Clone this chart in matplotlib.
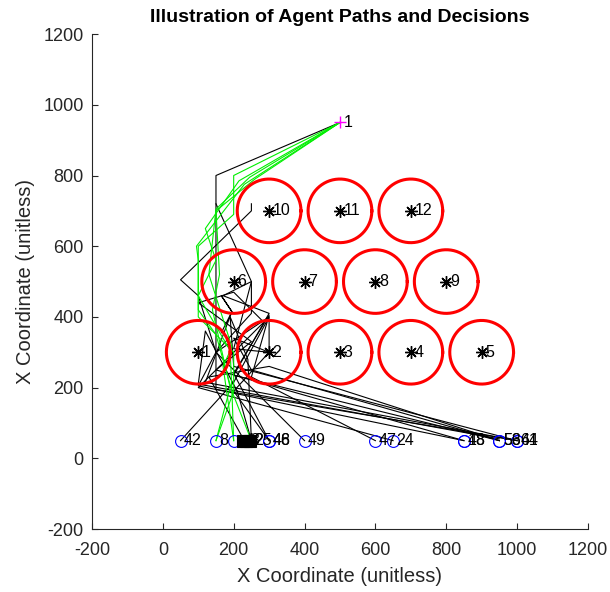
import numpy as np
import matplotlib.pyplot as plt

plt.rcParams['font.family'] = ['Liberation Sans', 'DejaVu Sans']
plt.rcParams['axes.unicode_minus'] = False

# obstacle centres (numbered 1..12) and common radius
obs_x = [100, 300, 500, 700, 900, 200, 400, 600, 800, 300, 500, 700]
obs_y = [300, 300, 300, 300, 300, 500, 500, 500, 500, 700, 700, 700]
obs_r = 90

# goal
goal_x, goal_y = 500, 950

# agent start positions and their ids
start_x = [50, 150, 200, 300, 300, 400, 600, 650, 850, 850, 950, 950, 1000, 1000]
start_y = [50] * len(start_x)
start_ids = ['42', '8', '', '46', '48', '49', '47', '24', '48', '18', '53', '56', '61', '44']

# agents that never left the start area (drawn filled)
stuck_x = [225, 235, 245]
stuck_y = [50, 50, 50]
stuck_ids = ['12', '3', '25']

# paths of agents that reached the goal (start -> goal)
green_paths = [
    [(150, 50), (200, 190), (200, 300), (100, 400), (100, 600), (200, 690), (200, 800), (500, 950)],
    [(200, 50), (170, 260), (195, 315), (130, 520), (150, 705), (245, 795), (500, 950)],
    [(250, 50), (195, 190), (150, 350), (100, 420), (100, 560), (95, 600), (230, 775), (500, 950)],
    [(200, 50), (195, 190), (190, 305), (100, 460), (150, 560), (120, 650), (215, 785), (500, 950)],
    [(150, 50), (190, 200), (140, 420), (160, 520), (150, 700), (260, 790), (500, 950)],
]

# paths of the remaining agents
black_paths = [
    [(1000, 50), (150, 195), (150, 800), (500, 950)],
    [(850, 50), (100, 205), (150, 300), (100, 460), (50, 505), (250, 700), (250, 720)],
    [(950, 50), (200, 235), (300, 410), (170, 460), (250, 500), (250, 410), (150, 300)],
    [(50, 50), (200, 215), (300, 400), (300, 300), (200, 310), (250, 500), (150, 720)],
    [(1000, 50), (120, 215), (195, 415), (165, 460), (195, 415), (165, 355)],
    [(250, 50), (210, 190), (120, 360), (100, 210), (950, 55)],
    [(300, 50), (200, 240), (300, 405), (250, 230), (600, 50)],
    [(400, 50), (265, 185), (150, 300), (300, 400), (100, 200), (650, 50)],
    [(950, 50), (250, 250), (200, 340), (300, 300), (200, 190), (300, 50)],
    [(1000, 50), (200, 260), (190, 400), (240, 280), (250, 50)],
    [(850, 50), (150, 250), (250, 330), (100, 440), (200, 470), (280, 390)],
    [(950, 50), (300, 260), (130, 230), (230, 50)],
]

fig = plt.figure(figsize=(6.1, 5.92), dpi=100)
ax = fig.add_axes([0.1508, 0.1064, 0.813, 0.836])

for p in black_paths:
    p = np.array(p)
    ax.plot(p[:, 0], p[:, 1], color='black', lw=0.8)
for p in green_paths:
    p = np.array(p)
    ax.plot(p[:, 0], p[:, 1], color='#00ee00', lw=0.8)

# MATLAB-style asterisk: a "+" laid over an "x"
asterisk = (8, 2, 0)

t = np.linspace(0, 2 * np.pi, 200)
for i, (cx, cy) in enumerate(zip(obs_x, obs_y)):
    ax.plot(cx + obs_r * np.cos(t), cy + obs_r * np.sin(t), color='red', lw=2.2)
    ax.plot(cx, cy, marker=asterisk, color='black', ms=9, mew=1.0, linestyle='none')
    ax.text(cx + 10, cy, str(i + 1), fontsize=11.5, va='center', ha='left')

ax.plot(start_x, start_y, 'o', mfc='none', mec='blue', ms=8.5, mew=0.8)
for sx, sy, lab in zip(start_x, start_y, start_ids):
    ax.text(sx + 10, sy, lab, fontsize=11.5, va='center', ha='left')

ax.plot(stuck_x, stuck_y, 's', color='black', ms=8, mew=0.8)
for sx, sy, lab in zip(stuck_x, stuck_y, stuck_ids):
    ax.text(sx + 12, sy, lab, fontsize=11.5, va='center', ha='left')

ax.plot(goal_x, goal_y, '+', color='magenta', ms=9, mew=1)
ax.text(goal_x + 10, goal_y, '1', fontsize=11.5, va='center', ha='left')

ax.set_xlim(-200, 1200)
ax.set_ylim(-200, 1200)
ax.set_xticks(range(-200, 1201, 200))
ax.set_yticks(range(-200, 1201, 200))
ax.spines['top'].set_visible(False)
ax.spines['right'].set_visible(False)
for s in ['left', 'bottom']:
    ax.spines[s].set_color('#262626')
    ax.spines[s].set_linewidth(0.8)
ax.tick_params(direction='in', length=4, labelsize=13, colors='#262626')
ax.tick_params(axis='x', pad=9)
ax.tick_params(axis='y', pad=6)
ax.set_xlabel('X Coordinate (unitless)', fontsize=14.5, color='#262626', labelpad=6)
ax.set_ylabel('X Coordinate (unitless)', fontsize=14.5, color='#262626', labelpad=6)
ax.set_title('Illustration of Agent Paths and Decisions', fontsize=14, fontweight='bold', pad=9)

fig.savefig('out.png', dpi=100)
